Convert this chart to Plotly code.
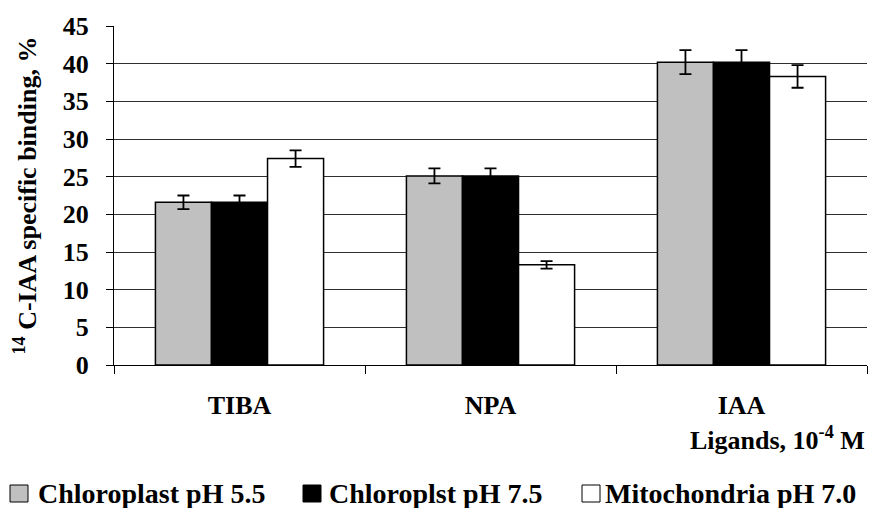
import plotly.graph_objects as go

# Ligand categories and mean specific binding (%) with error margins
ligands = ["TIBA", "NPA", "IAA"]
series_names = ["Chloroplast pH 5.5", "Chloroplst pH 7.5", "Mitochondria pH 7.0"]
chloro_55 = [21.6, 25.1, 40.2]
chloro_55_err = [0.9, 1.0, 1.6]
chloro_75 = [21.6, 25.1, 40.2]
chloro_75_err = [0.9, 1.0, 1.6]
mito_70 = [27.4, 13.3, 38.3]
mito_70_err = [1.1, 0.5, 1.5]
y_ticks = [0, 5, 10, 15, 20, 25, 30, 35, 40, 45]

fills = ["#c0c0c0", "#000000", "#ffffff"]
values = [chloro_55, chloro_75, mito_70]
errors = [chloro_55_err, chloro_75_err, mito_70_err]

FONT = "Liberation Serif"
W, H = 871, 508
ML, MR, MT, MB = 114, 4, 26, 143
PW, PH = W - ML - MR, H - MT - MB


def px_x(px):
    """Pixel column -> paper x."""
    return (px - ML) / PW


def px_y(py):
    """Pixel row -> paper y."""
    return (H - MB - py) / PH


fig = go.Figure()
for name, vals, errs, color in zip(series_names, values, errors, fills):
    fig.add_trace(go.Bar(
        x=ligands, y=vals, name=name, showlegend=False,
        marker=dict(color=color, line=dict(color="#000000", width=1.5)),
        error_y=dict(type="data", array=errs, visible=True,
                     color="#000000", thickness=1.8, width=6),
    ))

fig.update_layout(
    width=W, height=H,
    margin=dict(l=ML, r=MR, t=MT, b=MB),
    paper_bgcolor="white", plot_bgcolor="white",
    barmode="group", bargap=0.33, bargroupgap=0,
    font=dict(family=FONT, size=24, color="#000000", weight="bold"),
    showlegend=False,
    xaxis=dict(
        showline=True, linecolor="#000000", linewidth=1.2,
        ticks="outside", tickson="boundaries", ticklen=8,
        tickcolor="#000000", tickwidth=1.2,
        tickfont=dict(family=FONT, size=26, color="#000000", weight="bold"),
        ticklabelstandoff=17,
        showgrid=False,
    ),
    yaxis=dict(
        range=[0, 45], tickvals=y_ticks,
        showline=True, linecolor="#000000", linewidth=1.2,
        ticks="outside", ticklen=7, tickcolor="#000000", tickwidth=1.2,
        tickfont=dict(family=FONT, size=26, color="#000000", weight="bold"),
        ticklabelstandoff=12,
        showgrid=True, gridcolor="#303030", gridwidth=1,
        zeroline=False,
    ),
)

# y-axis title
fig.add_annotation(
    text="<sup>14</sup> C-IAA specific binding, %", textangle=-90,
    xref="paper", yref="paper", x=px_x(26), y=0.5,
    xanchor="center", yanchor="middle", showarrow=False,
    font=dict(family=FONT, size=26, color="#000000", weight="bold"),
)

# x-axis unit label
fig.add_annotation(
    text="Ligands, 10<sup>-4</sup> M", xref="paper", yref="paper",
    x=1.0, y=px_y(438), xanchor="right", yanchor="middle", showarrow=False,
    font=dict(family=FONT, size=26, color="#000000", weight="bold"),
)

# legend: swatch + label per series
swatch_x = [10, 303, 582]
label_x = [36, 327, 603]
for name, color, sx, lx in zip(series_names, fills, swatch_x, label_x):
    fig.add_shape(
        type="rect", xref="paper", yref="paper",
        x0=px_x(sx), x1=px_x(sx + 18), y0=px_y(502), y1=px_y(485),
        fillcolor=color, line=dict(color="#000000", width=1),
    )
    fig.add_annotation(
        text=name, xref="paper", yref="paper",
        x=px_x(lx), y=px_y(493), xanchor="left", yanchor="middle",
        showarrow=False,
        font=dict(family=FONT, size=28, color="#000000", weight="bold"),
    )

fig.write_html("out.html")
